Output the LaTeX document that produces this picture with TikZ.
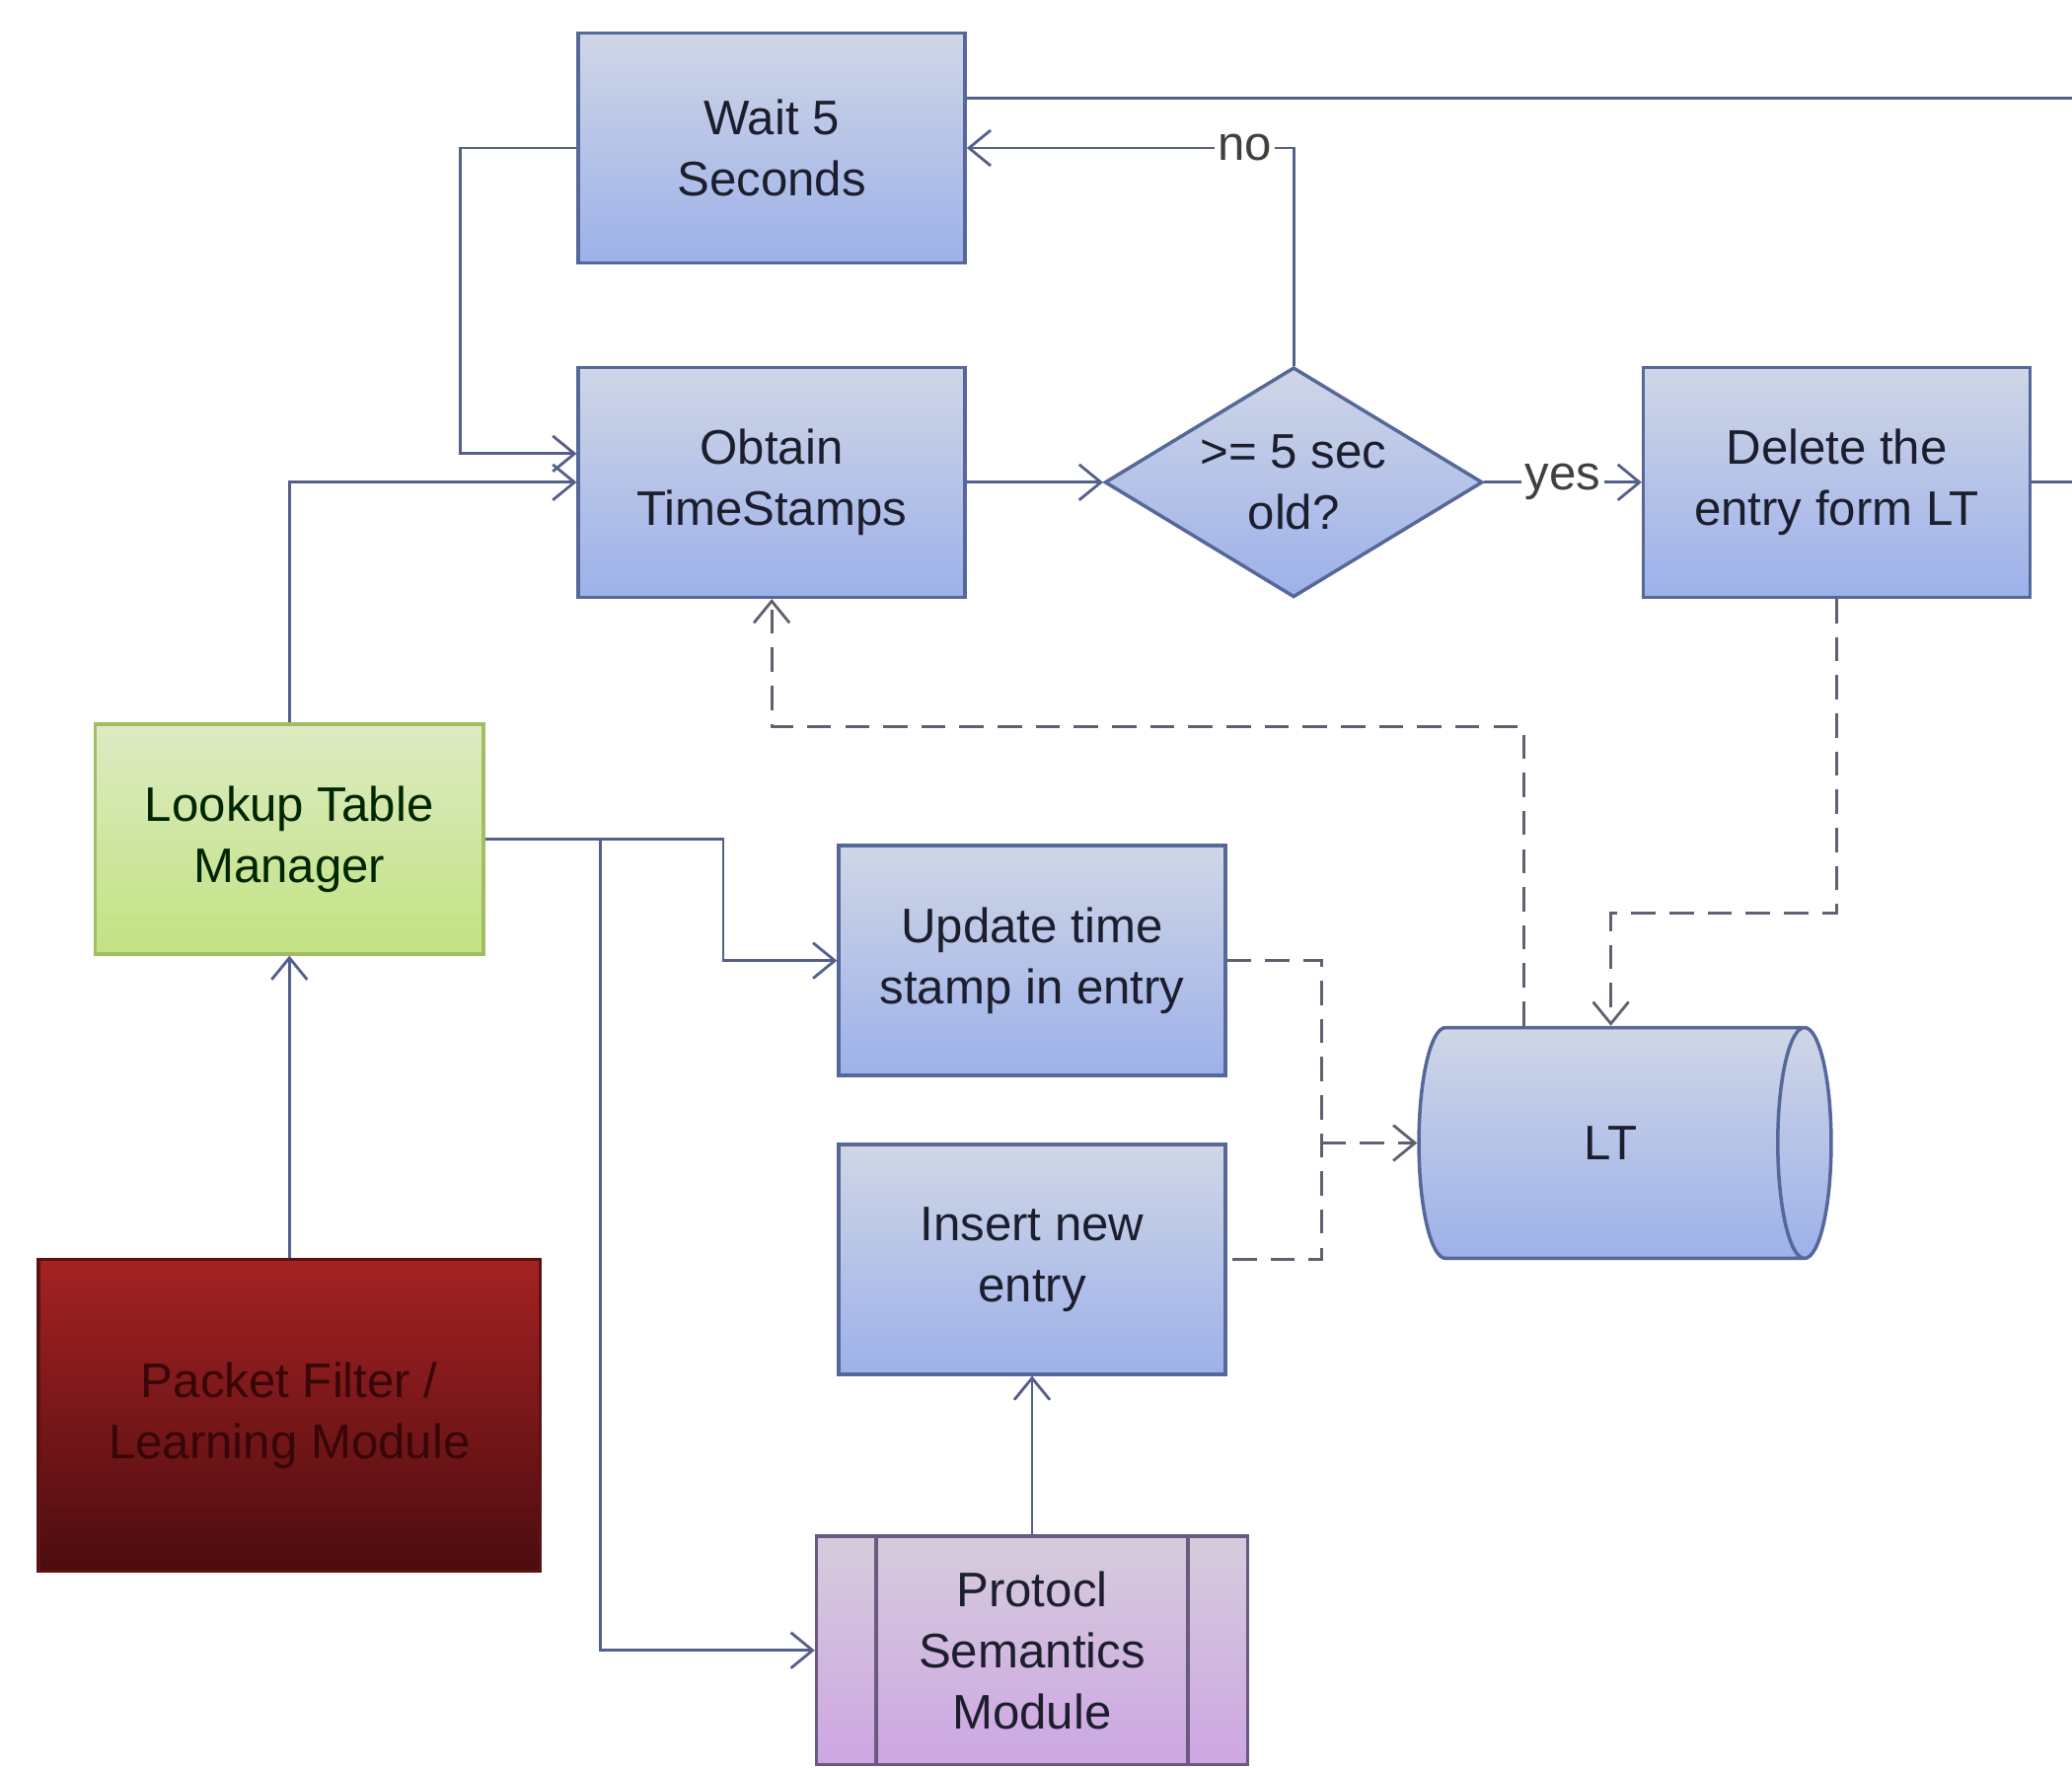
\documentclass[tikz,border=0pt]{standalone}
\usepackage{fontspec}
\setmainfont{Liberation Sans}
\usetikzlibrary{shapes.geometric,arrows.meta,calc}

\definecolor{linec}{HTML}{555F8C}
\definecolor{dashc}{HTML}{5F6070}
\definecolor{boxedge}{HTML}{56679A}
\definecolor{blueT}{HTML}{CFD6E6}
\definecolor{blueB}{HTML}{9DB1EA}
\definecolor{greenT}{HTML}{DDEBC2}
\definecolor{greenB}{HTML}{C2E282}
\definecolor{greenE}{HTML}{9FBF62}
\definecolor{redT}{HTML}{A52222}
\definecolor{redB}{HTML}{4C0C10}
\definecolor{redE}{HTML}{5A1212}
\definecolor{redtxt}{HTML}{380608}
\definecolor{purpT}{HTML}{D6CCDC}
\definecolor{purpB}{HTML}{CDA6E3}
\definecolor{purpE}{HTML}{6A5A80}
\definecolor{txt}{HTML}{1C1E2E}

\tikzset{
  base/.style={align=center, inner sep=0pt, text=txt,
    font=\fontsize{14}{17.6}\selectfont},
  proc/.style={base, rectangle, draw=boxedge, line width=1pt,
    top color=blueT, bottom color=blueB,
    minimum width=3.92cm, minimum height=2.33cm},
  mgr/.style={base, rectangle, draw=greenE, line width=1pt,
    top color=greenT, bottom color=greenB, text=black!85!green,
    minimum width=3.94cm, minimum height=2.33cm},
  srcbox/.style={base, rectangle, draw=redE, line width=1pt,
    top color=redT, bottom color=redB, text=redtxt,
    minimum width=5.09cm, minimum height=3.16cm},
  module/.style={base, rectangle, draw=purpE, line width=1pt,
    top color=purpT, bottom color=purpB,
    minimum width=4.37cm, minimum height=2.32cm},
  decide/.style={base, diamond, aspect=1.64, draw=boxedge, line width=1pt,
    top color=blueT, bottom color=blueB,
    minimum width=3.83cm, minimum height=2.33cm},
  store/.style={base, cylinder, draw=boxedge, line width=1pt,
    shape aspect=1.6, top color=blueT, bottom color=blueB,
    minimum width=2.34cm, minimum height=4.18cm},
  conn/.style={draw=linec, line width=0.8pt},
  arr/.style={conn, -{Straight Barb[length=2.2mm,width=3.6mm,line width=0.8pt]}},
  dline/.style={draw=dashc, line width=0.8pt, dash pattern=on 7pt off 4pt},
  darr/.style={dline, -{Straight Barb[length=2.2mm,width=3.6mm,line width=0.8pt]}},
  lab/.style={fill=white, inner sep=1pt, text=black!75,
    font=\fontsize{14}{16}\selectfont}
}

\begin{document}
\begin{tikzpicture}[x=0.013393cm, y=-0.013393cm]
  \useasboundingbox[fill=white] (0,0) rectangle (1568,1338);

  % process boxes
  \node[proc]   (wait)   at (584,112)  {Wait 5\\Seconds};
  \node[proc]   (obt)    at (584,365)  {Obtain\\TimeStamps};
  \node[decide] (dec)    at (979,365)  {>= 5 sec\\old?};
  \node[proc]   (del)    at (1390,365) {Delete the\\entry form LT};
  \node[mgr]    (lookup) at (219,635)  {Lookup Table\\Manager};
  \node[proc]   (upd)    at (781,727)  {Update time\\stamp in entry};
  \node[proc]   (ins)    at (781,953)  {Insert new\\entry};
  \node[store]  (lt)     at (1219,865) {LT};
  \node[srcbox] (red)    at (219,1071) {Packet Filter /\\Learning Module};
  \node[module] (proto)  at (781,1249) {Protocl\\Semantics\\Module};
  % side bars of the predefined-process box
  \draw[draw=purpE, line width=1pt]
    ([xshift=0.62cm]proto.north west) -- ([xshift=0.62cm]proto.south west)
    ([xshift=-0.62cm]proto.north east) -- ([xshift=-0.62cm]proto.south east);

  % lines leaving to the right
  \coordinate (edgeA) at (1568,74);
  \coordinate (edgeB) at (1568,365);
  \draw[conn] (wait.east |- edgeA) -- (edgeA);
  \draw[conn] (del.east) -- (edgeB);

  % control flow
  \draw[arr] (dec.north) |- node[lab, pos=0.575] {no} (wait.east);
  \draw[arr] (wait.west) -- ++(-88,0) |- ([yshift=0.29cm]obt.west);
  \draw[arr] (lookup.north) |- (obt.west);
  \draw[arr] (obt.east) -- (dec.west);
  \draw[arr] (dec.east) -- node[lab] {yes} (del.west);
  \draw[arr] (lookup.east) -- ++(180,0) |- (upd.west);
  \draw[arr] (lookup.east) ++(87,0) |- (proto.west);
  \draw[conn] (lookup.east) -- ++(87,0);
  \draw[arr] (red.north) -- (lookup.south);
  \draw[arr] (proto.north) -- (ins.south);

  % table access
  \coordinate (dj) at (1153,550);
  \draw[darr] (lt.north -| dj) -- (dj) -| (obt.south);
  \draw[darr] (del.south) -- ++(0,238) -| (lt.north);
  \coordinate (dm) at (1000,865);
  \draw[dline] (upd.east) -| (dm) |- (ins.east);
  \draw[darr] (dm) -- (lt.west);
\end{tikzpicture}
\end{document}
